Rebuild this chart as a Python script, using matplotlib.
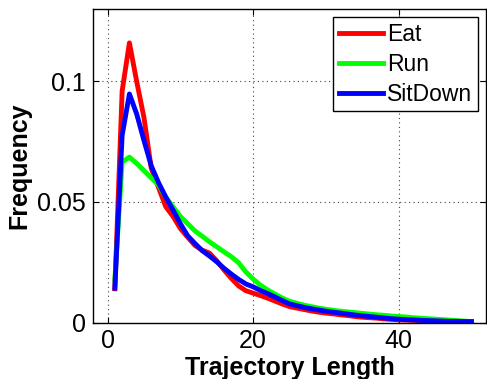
import matplotlib
matplotlib.use("Agg")
import matplotlib.pyplot as plt

plt.rcParams['font.family'] = ['Liberation Sans', 'DejaVu Sans']

# trajectory length bins
lengths = list(range(1, 51))

eat = [0.014, 0.096, 0.116, 0.100, 0.085, 0.064, 0.056, 0.048, 0.044, 0.039,
       0.0354, 0.032, 0.030, 0.0288, 0.0256, 0.0218, 0.0183, 0.0152, 0.0132, 0.0122,
       0.0112, 0.0101, 0.0089, 0.0077, 0.0066, 0.0060, 0.0054, 0.0048, 0.0043, 0.0039,
       0.0036, 0.0032, 0.0029, 0.0025, 0.0022, 0.0020, 0.0018, 0.0015, 0.0013, 0.0011,
       0.0010, 0.0009, 0.0008, 0.0007, 0.0006, 0.0005, 0.0004, 0.0004, 0.0003, 0.0003]

run = [0.018, 0.0665, 0.0686, 0.066, 0.063, 0.060, 0.057, 0.052, 0.048, 0.044,
       0.041, 0.038, 0.0358, 0.0335, 0.0314, 0.0293, 0.0273, 0.0248, 0.021, 0.018,
       0.0155, 0.0135, 0.0118, 0.0102, 0.0088, 0.0080, 0.0072, 0.0066, 0.0060, 0.0055,
       0.0051, 0.0047, 0.0044, 0.0041, 0.0038, 0.0035, 0.0032, 0.0030, 0.0027, 0.0025,
       0.0023, 0.0020, 0.0018, 0.0016, 0.0014, 0.0012, 0.0010, 0.0008, 0.0006, 0.0004]

sitdown = [0.0143, 0.0776, 0.0948, 0.0865, 0.0755, 0.065, 0.058, 0.052, 0.0466, 0.041,
           0.036, 0.0328, 0.0298, 0.0276, 0.0252, 0.0225, 0.0201, 0.0179, 0.016, 0.0148,
           0.0133, 0.0120, 0.0106, 0.0091, 0.0077, 0.0070, 0.0063, 0.0057, 0.0052, 0.0047,
           0.0043, 0.0039, 0.0035, 0.0031, 0.0028, 0.0025, 0.0022, 0.0019, 0.0016, 0.0014,
           0.0012, 0.0011, 0.0009, 0.0008, 0.0007, 0.0006, 0.0005, 0.0005, 0.0004, 0.0004]

fig = plt.figure(figsize=(4.87, 3.79), dpi=100)
ax = fig.add_axes([0.191, 0.149, 0.807, 0.827])

ax.plot(lengths, eat, color=(1, 0, 0), lw=3.5, label='Eat')
ax.plot(lengths, run, color=(0, 1, 0), lw=3.5, label='Run')
ax.plot(lengths, sitdown, color=(0, 0, 1), lw=3.5, label='SitDown')

ax.set_xlim(-2, 52)
ax.set_ylim(0, 0.13)
ax.set_xticks([0, 20, 40])
ax.set_yticks([0, 0.05, 0.1])
ax.set_yticklabels(['0', '0.05', '0.1'])
ax.tick_params(direction='in', top=True, right=True, length=4, width=0.8,
               labelsize=18, pad=5)
ax.grid(True, linestyle=(0, (1, 3)), color='#444444', linewidth=0.8)
for s in ax.spines.values():
    s.set_linewidth(1.0)

ax.set_xlabel('Trajectory Length', fontsize=18, fontweight='bold', labelpad=2)
ax.set_ylabel('Frequency', fontsize=18, fontweight='bold', labelpad=4)

leg = ax.legend(loc='upper right', fontsize=16.5, fancybox=False, framealpha=1,
                edgecolor='black', handlelength=1.9, handletextpad=0.2,
                borderpad=0.25, labelspacing=0.3, borderaxespad=0.35)
leg.get_frame().set_linewidth(1.0)

fig.savefig('out.png', dpi=100)
